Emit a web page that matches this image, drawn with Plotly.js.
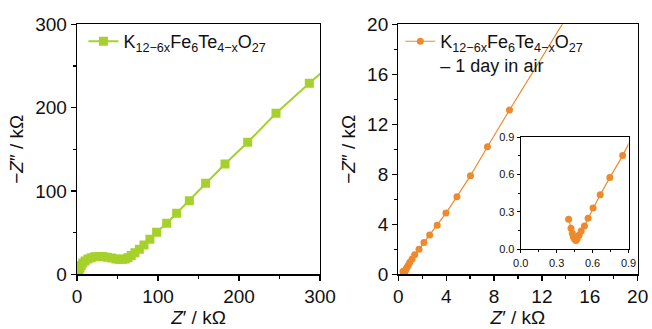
<!DOCTYPE html>
<html><head><meta charset="utf-8">
<script src="https://cdn.plot.ly/plotly-3.0.1.min.js"></script>
<style>html,body{margin:0;padding:0;background:#fff}#chart{width:652px;height:329px}</style>
</head><body><div id="chart"></div>
<script>
// Left panel: pristine sample (Nyquist), kOhm
const freshZre = [0.8, 1.5, 2.5, 3.7, 5.2, 7.2, 10, 13.5, 17.5, 22, 27, 32, 37.5, 43, 48, 52.5, 56, 59.5, 63, 67, 71.5, 77, 82.7, 90, 98.3, 110.7, 123, 138.7, 158.8, 182.7, 210.7, 245.7, 286.8, 330];
const freshZim = [1, 3, 5, 7.5, 10.5, 13.5, 16, 18.5, 20, 21, 21.5, 21.3, 20.5, 19.5, 18.5, 18, 18, 18.5, 20, 22.5, 26, 30, 35.2, 42, 50.4, 61.2, 73.2, 88.4, 109.2, 132.4, 158.4, 193.2, 229.2, 266];
// Right panel: after 1 day in air, kOhm
const airZre = [0.40, 0.42, 0.431, 0.439, 0.45, 0.461, 0.472, 0.488, 0.505, 0.532, 0.5625, 0.604, 0.664, 0.744, 0.851, 0.96, 1.15, 1.37, 1.73, 2.14, 2.62, 3.25, 3.98, 4.9, 6.03, 7.45, 9.29, 14.6];
const airZim = [0.241, 0.169, 0.129, 0.10, 0.08, 0.07, 0.085, 0.115, 0.147, 0.1875, 0.249, 0.332, 0.439, 0.576, 0.753, 0.96, 1.22, 1.56, 2.0, 2.54, 3.15, 3.93, 4.9, 6.21, 7.89, 10.21, 13.15, 21.4];
const freshName = "K<sub>12−6x</sub>Fe<sub>6</sub>Te<sub>4−x</sub>O<sub>27</sub>";
const airName = "K<sub>12−6x</sub>Fe<sub>6</sub>Te<sub>4−x</sub>O<sub>27</sub><br>– 1 day in air";
const leftTicks = [0, 100, 200, 300];
const rightTicks = [0, 4, 8, 12, 16, 20];
const insetTicks = [0, 0.3, 0.6, 0.9];

const green = "#a6d12b", orange = "#ee8a2b";
const FONT = "Liberation Sans, Arial, sans-serif";

const traces = [
  {x: freshZre, y: freshZim, xaxis: "x", yaxis: "y", mode: "lines+markers", name: freshName, legend: "legend",
   line: {color: green, width: 2}, marker: {symbol: "square", size: 9, color: green}},
  {x: airZre, y: airZim, xaxis: "x2", yaxis: "y2", mode: "lines+markers", name: airName, legend: "legend2",
   line: {color: orange, width: 1.2}, marker: {symbol: "circle", size: 7, color: orange}},
  {x: airZre, y: airZim, xaxis: "x3", yaxis: "y3", mode: "lines+markers", showlegend: false,
   line: {color: orange, width: 1.2}, marker: {symbol: "circle", size: 7, color: orange}}
];

function ax(extra) {
  return Object.assign({
    showgrid: false, zeroline: false, showline: true, mirror: true, linecolor: "#000", linewidth: 1.3,
    ticks: "outside", ticklen: 5, tickwidth: 1.3, tickcolor: "#000", ticklabeloverflow: "allow",
    tickfont: {family: FONT, size: 19, color: "#111"}, automargin: false, fixedrange: true
  }, extra);
}
const titleFont = {family: FONT, size: 19, color: "#111"};
const minorMain = (d) => ({dtick: d, ticklen: 3, ticks: "outside", tickcolor: "#000"});
const minorInset = {dtick: 0.15, ticklen: 2, ticks: "outside", tickcolor: "#000"};

const layout = {
  width: 652, height: 329, paper_bgcolor: "#fff", plot_bgcolor: "rgba(0,0,0,0)",
  margin: {l: 0, r: 0, t: 0, b: 0},
  font: {family: FONT, color: "#111"},
  xaxis: ax({domain: [0.1181, 0.4908], anchor: "y", range: [0, 300], tickvals: leftTicks, minor: minorMain(50),
    title: {text: "<i>Z</i>′ / kΩ", font: titleFont, standoff: 2}}),
  yaxis: ax({domain: [0.1662, 0.9261], anchor: "x", range: [0, 300], tickvals: leftTicks, minor: minorMain(50),
    title: {text: "−<i>Z</i>″ / kΩ", font: titleFont, standoff: 6}}),
  xaxis2: ax({domain: [0.6109, 0.978], anchor: "y2", range: [0, 20], tickvals: rightTicks, minor: minorMain(2),
    title: {text: "<i>Z</i>′ / kΩ", font: titleFont, standoff: 2}}),
  yaxis2: ax({domain: [0.1662, 0.9261], anchor: "x2", range: [0, 20], tickvals: rightTicks, minor: minorMain(2),
    title: {text: "−<i>Z</i>″ / kΩ", font: titleFont, standoff: 6}}),
  xaxis3: ax({domain: [0.7986, 0.9640], anchor: "y3", range: [0, 0.9], tickvals: insetTicks, tickformat: ".1f",
    ticklen: 3, linewidth: 1, tickwidth: 1, tickfont: {family: FONT, size: 11, color: "#111"}, minor: minorInset}),
  yaxis3: ax({domain: [0.2422, 0.5827], anchor: "x3", range: [0, 0.9], tickvals: insetTicks, tickformat: ".1f",
    ticklen: 3, linewidth: 1, tickwidth: 1, tickfont: {family: FONT, size: 11, color: "#111"}, minor: minorInset}),
  legend: {x: 0.128, y: 0.93, xanchor: "left", yanchor: "top", bgcolor: "rgba(0,0,0,0)",
    font: {family: FONT, size: 18, color: "#111"}, tracegroupgap: 0},
  legend2: {x: 0.614, y: 0.93, xanchor: "left", yanchor: "top", bgcolor: "rgba(0,0,0,0)", valign: "top",
    font: {family: FONT, size: 18, color: "#111"}, tracegroupgap: 0},
  showlegend: true
};

Plotly.newPlot("chart", traces, layout, {staticPlot: true, displayModeBar: false});
</script></body></html>
